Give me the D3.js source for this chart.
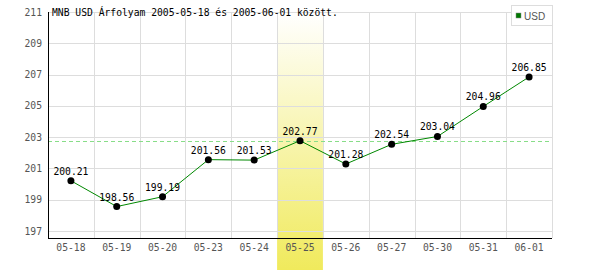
<!DOCTYPE html>
<html>
<head>
<meta charset="utf-8">
<script src="https://cdn.jsdelivr.net/npm/d3@7"></script>
<style>
  body { margin: 0; background: #fff; }
  text { font-family: "DejaVu Sans Mono", monospace; }
</style>
</head>
<body>
<div id="chart"></div>
<script>
var dates = ["05-18", "05-19", "05-20", "05-23", "05-24", "05-25", "05-26", "05-27", "05-30", "05-31", "06-01"];
var rates = [200.21, 198.56, 199.19, 201.56, 201.53, 202.77, 201.28, 202.54, 203.04, 204.96, 206.85];
var yTicks = [197, 199, 201, 203, 205, 207, 209, 211];
var highlight = "05-25";
var refValue = 202.77;
var title = "MNB USD Árfolyam 2005-05-18 és 2005-06-01 között.";

var margin = {top: 12, right: 48, bottom: 32, left: 48},
    width = 600 - margin.left - margin.right,
    height = 270 - margin.top - margin.bottom;

var fs = "9.7px";

var svg = d3.select("#chart")
  .append("svg")
    .attr("width", 600)
    .attr("height", 270)
  .append("g")
    .attr("transform", "translate(" + margin.left + "," + margin.top + ")");

var x = d3.scaleBand()
  .domain(dates)
  .range([0, width]);

var y = d3.scaleLinear()
  .domain([196.55, 211])
  .range([height, 0]);

// gradient for highlighted day
var grad = svg.append("defs").append("linearGradient")
  .attr("id", "hl").attr("x1", 0).attr("y1", 0).attr("x2", 0).attr("y2", 1);
grad.append("stop").attr("offset", "0%").attr("stop-color", "#ffffff");
grad.append("stop").attr("offset", "100%").attr("stop-color", "#f0ea5c");

svg.append("rect")
  .attr("x", x(highlight))
  .attr("y", 0)
  .attr("width", x.bandwidth())
  .attr("height", height + margin.bottom)
  .style("fill", "url(#hl)");

// grid
svg.append("g")
  .selectAll("line")
  .data(yTicks)
  .enter()
  .append("line")
    .attr("x1", 0).attr("x2", width)
    .attr("y1", function(d) { return Math.round(y(d)) + 0.5; })
    .attr("y2", function(d) { return Math.round(y(d)) + 0.5; })
    .style("stroke", "#dddddd");

svg.append("g")
  .selectAll("line")
  .data(dates.slice(1).concat(["end"]))
  .enter()
  .append("line")
    .attr("x1", function(d, i) { return Math.round((i + 1) * x.bandwidth()) + 0.5; })
    .attr("x2", function(d, i) { return Math.round((i + 1) * x.bandwidth()) + 0.5; })
    .attr("y1", 0).attr("y2", height)
    .style("stroke", "#dddddd");

// reference line
svg.append("line")
  .attr("x1", 0).attr("x2", width)
  .attr("y1", Math.round(y(refValue)) + 0.5)
  .attr("y2", Math.round(y(refValue)) + 0.5)
  .style("stroke", "#88dd88")
  .style("stroke-dasharray", "4,3");

// axes
var yAxis = svg.append("g")
  .call(d3.axisLeft(y).tickValues(yTicks).tickSize(0).tickPadding(6));
yAxis.select(".domain").remove();
yAxis.selectAll("text")
  .style("font-family", "DejaVu Sans Mono, monospace")
  .style("font-size", fs)
  .style("fill", "#555");

var xAxis = svg.append("g")
  .attr("transform", "translate(0," + height + ")")
  .call(d3.axisBottom(x).tickSize(0).tickPadding(6));
xAxis.select(".domain").remove();
xAxis.selectAll("text")
  .style("font-family", "DejaVu Sans Mono, monospace")
  .style("font-size", fs)
  .style("fill", "#555");

svg.append("line")
  .attr("x1", 0.5).attr("x2", 0.5).attr("y1", 0).attr("y2", height + 0.5)
  .style("stroke", "#000");
svg.append("line")
  .attr("x1", 0).attr("x2", width).attr("y1", height + 0.5).attr("y2", height + 0.5)
  .style("stroke", "#000");

// line + points
var pts = dates.map(function(d, i) { return {date: d, v: rates[i]}; });

svg.append("path")
  .datum(pts)
  .attr("d", d3.line()
    .x(function(d) { return x(d.date) + x.bandwidth() / 2; })
    .y(function(d) { return y(d.v); }))
  .style("fill", "none")
  .style("stroke", "#008800")
  .style("stroke-width", 1);

svg.append("g")
  .selectAll("circle")
  .data(pts)
  .enter()
  .append("circle")
    .attr("cx", function(d) { return x(d.date) + x.bandwidth() / 2; })
    .attr("cy", function(d) { return y(d.v); })
    .attr("r", 3.5)
    .style("fill", "#000");

svg.append("g")
  .selectAll("text")
  .data(pts)
  .enter()
  .append("text")
    .attr("x", function(d) { return x(d.date) + x.bandwidth() / 2; })
    .attr("y", function(d) { return y(d.v) - 6; })
    .attr("text-anchor", "middle")
    .style("font-size", fs)
    .style("fill", "#000")
    .text(function(d) { return d.v.toFixed(2); });

// title
svg.append("text")
  .attr("x", 4)
  .attr("y", 4)
  .style("font-size", fs)
  .style("fill", "#000")
  .text(title);

// legend
var lg = svg.append("g").attr("transform", "translate(" + (width - 41) + ",-7)");
lg.append("rect")
  .attr("x", 0.5).attr("y", 0.5).attr("width", 41).attr("height", 20)
  .style("fill", "#fff").style("stroke", "#dddddd");
lg.append("rect")
  .attr("x", 5).attr("y", 8).attr("width", 5).attr("height", 5)
  .style("fill", "#007700").style("stroke", "#888").style("stroke-width", 0.5);
lg.append("text")
  .attr("x", 13).attr("y", 14.5)
  .style("font-family", "Liberation Sans Narrow, Arial Narrow, sans-serif")
  .style("font-size", "10px")
  .style("fill", "#555")
  .text("USD");
</script>
</body>
</html>
